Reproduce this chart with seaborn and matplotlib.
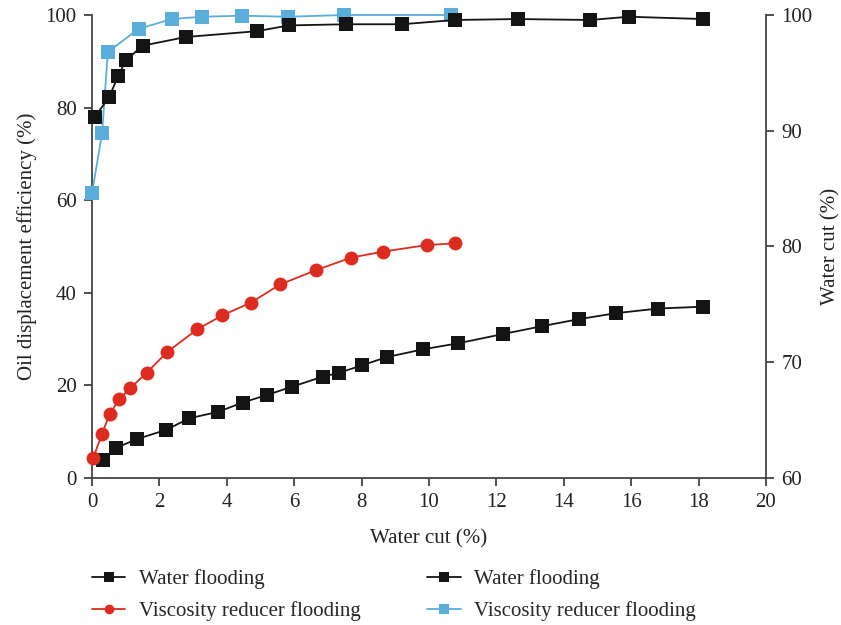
import matplotlib
matplotlib.use("Agg")
import matplotlib.pyplot as plt
import seaborn as sns
import pandas as pd
from matplotlib.lines import Line2D

# Left axis: oil displacement efficiency
wf_eff_x = [0.34, 0.71, 1.33, 2.2, 2.89, 3.75, 4.47, 5.18, 5.93, 6.85, 7.32, 8.0, 8.74,
            9.83, 10.87, 12.2, 13.36, 14.44, 15.55, 16.8, 18.12]
wf_eff_y = [3.9, 6.5, 8.4, 10.4, 12.9, 14.3, 16.3, 17.9, 19.7, 21.9, 22.7, 24.3, 26.1,
            27.8, 29.1, 31.1, 32.8, 34.3, 35.6, 36.6, 37.0]
vr_eff_x = [0.04, 0.30, 0.53, 0.81, 1.13, 1.62, 2.23, 3.12, 3.86, 4.72, 5.58, 6.65,
            7.69, 8.64, 9.93, 10.77]
vr_eff_y = [4.4, 9.6, 13.9, 17.0, 19.4, 22.7, 27.2, 32.1, 35.1, 37.9, 41.8, 44.9,
            47.6, 48.9, 50.3, 50.7]
# Right axis: water cut
wf_wc_x = [0.08, 0.51, 0.77, 1.01, 1.5, 2.79, 4.89, 5.84, 7.54, 9.2, 10.77, 12.63,
           14.78, 15.93, 18.13]
wf_wc_y = [91.2, 92.9, 94.7, 96.1, 97.35, 98.1, 98.6, 99.1, 99.2, 99.2, 99.57, 99.65,
           99.57, 99.85, 99.65]
vr_wc_x = [0.0, 0.30, 0.47, 1.38, 2.37, 3.26, 4.45, 5.82, 7.48, 10.64]
vr_wc_y = [84.6, 89.8, 96.8, 98.8, 99.65, 99.85, 99.94, 99.85, 100.0, 100.0]

x_ticks = list(range(0, 21, 2))
left_ticks = [0, 20, 40, 60, 80, 100]
right_ticks = [60, 70, 80, 90, 100]

sns.set_style("ticks")
plt.rcParams['font.family'] = ['Liberation Serif', 'DejaVu Serif']

BLACK = "#141414"
RED = "#dd2c1f"
BLUE = "#5aaedc"

fig = plt.figure(figsize=(8.41, 6.25), dpi=100)
ax = fig.add_axes([92/841, 1-478/625, (766-92)/841, (478-15)/625])
ax2 = ax.twinx()

d1 = pd.DataFrame({"x": wf_eff_x, "y": wf_eff_y})
d2 = pd.DataFrame({"x": vr_eff_x, "y": vr_eff_y})
d3 = pd.DataFrame({"x": wf_wc_x, "y": wf_wc_y})
d4 = pd.DataFrame({"x": vr_wc_x, "y": vr_wc_y})

common = dict(markeredgewidth=0, linewidth=1.3, sort=False, clip_on=False)
sns.lineplot(data=d1, x="x", y="y", ax=ax, color=BLACK, marker="s", markersize=10,
             zorder=3, **common)
sns.lineplot(data=d2, x="x", y="y", ax=ax, color=RED, marker="o", markersize=10,
             zorder=3, **common)
sns.lineplot(data=d4, x="x", y="y", ax=ax2, color=BLUE, marker="s", markersize=10,
             zorder=2, **common)
sns.lineplot(data=d3, x="x", y="y", ax=ax2, color=BLACK, marker="s", markersize=10,
             zorder=3, **common)

ax.set_xlim(0, 20)
ax.set_ylim(0, 100)
ax2.set_ylim(60, 100)
ax.set_xticks(x_ticks)
ax.set_yticks(left_ticks)
ax2.set_yticks(right_ticks)

fs = 15
ax.set_xlabel("Water cut (%)", fontsize=fs, color="#222222", labelpad=12)
ax.set_ylabel("Oil displacement efficiency (%)", fontsize=fs, color="#222222", labelpad=6)
ax2.set_ylabel("Water cut (%)", fontsize=fs, color="#222222", labelpad=6)

for a in (ax, ax2):
    a.spines['top'].set_visible(False)
    a.tick_params(labelsize=fs, colors="#333333", labelcolor="#222222", width=1.2, length=6,
                  direction="out", pad=5)
    for s in a.spines.values():
        s.set_color("#444444")
        s.set_linewidth(1.3)
ax.spines['right'].set_visible(False)
ax2.spines['left'].set_visible(False)
ax2.spines['bottom'].set_visible(False)
ax2.spines['right'].set_visible(True)

handles = [
    Line2D([], [], color=BLACK, marker="s", markersize=7, markeredgewidth=0, linewidth=1.3),
    Line2D([], [], color=RED, marker="o", markersize=7, markeredgewidth=0, linewidth=1.3),
    Line2D([], [], color=BLACK, marker="s", markersize=7, markeredgewidth=0, linewidth=1.3),
    Line2D([], [], color=BLUE, marker="s", markersize=7, markeredgewidth=0, linewidth=1.3),
]
labels = ["Water flooding", "Viscosity reducer flooding",
          "Water flooding", "Viscosity reducer flooding"]
fig.legend(handles, labels, ncol=2, loc="upper left", bbox_to_anchor=(92/841, 1-569/625),
           frameon=False, fontsize=fs, handlelength=1.6, handletextpad=0.65,
           columnspacing=3.2, labelspacing=0.6, borderaxespad=0, borderpad=0)

fig.savefig("out.png", dpi=100)
